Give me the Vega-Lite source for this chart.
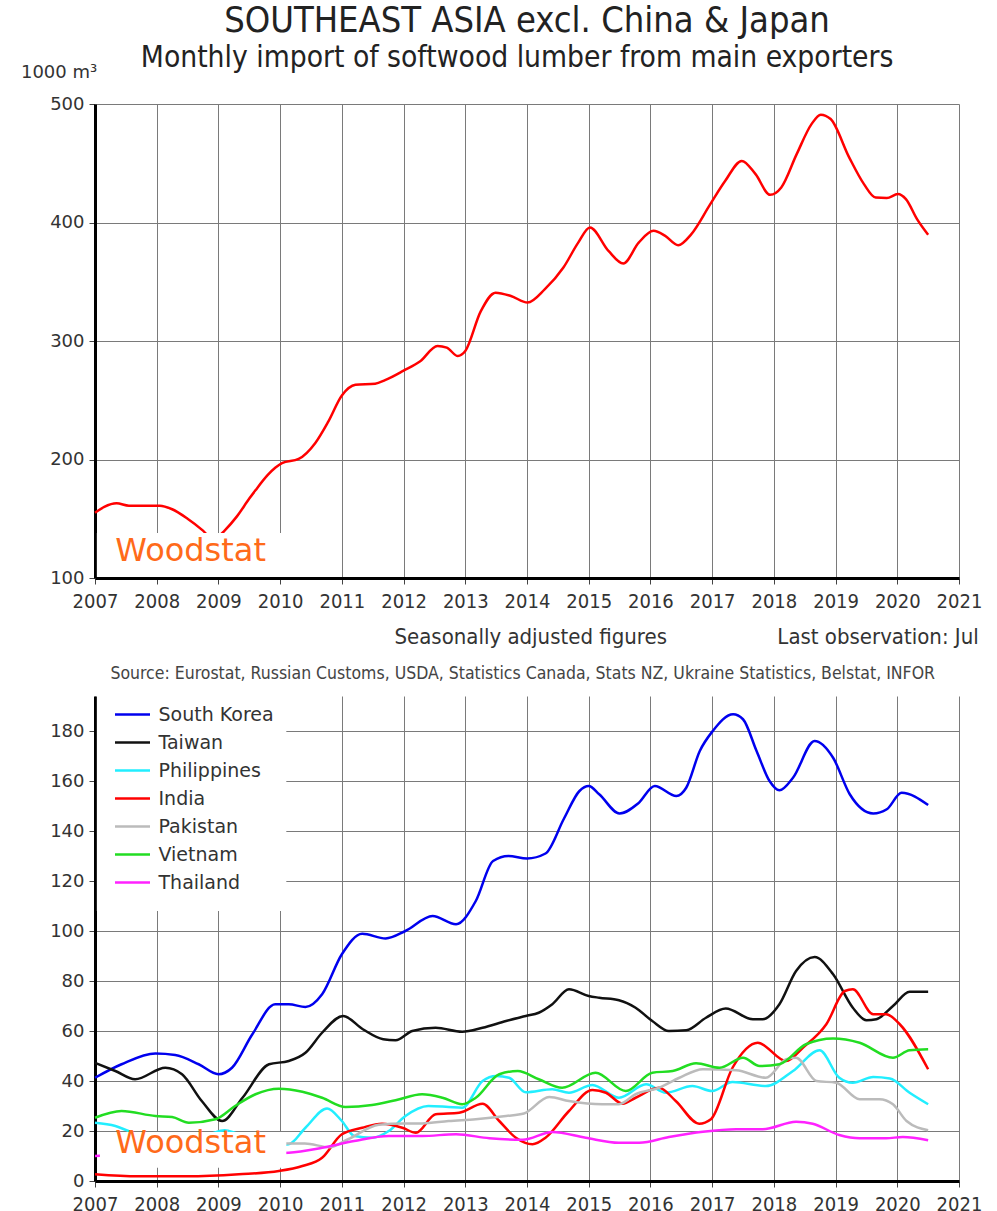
{
  "$schema": "https://vega.github.io/schema/vega-lite/v6.json",
  "background": "white",
  "padding": {"left": 20, "top": 2, "right": 5, "bottom": 0},
  "spacing": 118,
  "bounds": "flush",
  "resolve": {"legend": {"color": "independent"}},
  "config": {
    "view": {"stroke": null},
    "axis": {
      "domainColor": "#000000", "domainWidth": 3,
      "gridColor": "#7a7a7a", "gridWidth": 1, "gridOpacity": 1,
      "tickColor": "#444444", "tickSize": 6, "tickWidth": 1,
      "labelColor": "#333333", "labelFont": "DejaVu Sans", "labelFontSize": 18,
      "title": null
    },
    "axisX": {"labelFont": "'DejaVu Sans Condensed', 'Liberation Sans Narrow', sans-serif", "labelFontSize": 20, "labelPadding": 7, "labelOverlap": false, "labelFlush": false},
    "axisY": {"labelPadding": 5, "labelOverlap": false, "labelFlush": false}
  },
  "datasets": {
    "total": [
      {"t": 2007.0, "v": 155}, {"t": 2007.15, "v": 160}, {"t": 2007.35, "v": 163}, {"t": 2007.55, "v": 161},
      {"t": 2007.8, "v": 161}, {"t": 2008.05, "v": 161}, {"t": 2008.25, "v": 158}, {"t": 2008.5, "v": 150},
      {"t": 2008.75, "v": 140}, {"t": 2008.9, "v": 133}, {"t": 2009.0, "v": 135}, {"t": 2009.1, "v": 140},
      {"t": 2009.3, "v": 152}, {"t": 2009.5, "v": 167}, {"t": 2009.6, "v": 174}, {"t": 2009.8, "v": 187},
      {"t": 2009.92, "v": 193}, {"t": 2010.03, "v": 197}, {"t": 2010.3, "v": 200.5}, {"t": 2010.57, "v": 214},
      {"t": 2010.78, "v": 232}, {"t": 2011.0, "v": 254}, {"t": 2011.22, "v": 263}, {"t": 2011.54, "v": 264},
      {"t": 2011.7, "v": 267}, {"t": 2012.0, "v": 275}, {"t": 2012.27, "v": 283}, {"t": 2012.55, "v": 295.8},
      {"t": 2012.7, "v": 294.4}, {"t": 2012.88, "v": 287.3}, {"t": 2013.0, "v": 291.5}, {"t": 2013.25, "v": 325},
      {"t": 2013.49, "v": 340.8}, {"t": 2013.74, "v": 338}, {"t": 2014.01, "v": 332.4}, {"t": 2014.29, "v": 343.7},
      {"t": 2014.59, "v": 362}, {"t": 2014.83, "v": 383}, {"t": 2015.02, "v": 395.8}, {"t": 2015.32, "v": 376},
      {"t": 2015.56, "v": 365.4}, {"t": 2015.81, "v": 383}, {"t": 2016.05, "v": 393}, {"t": 2016.24, "v": 388.7},
      {"t": 2016.45, "v": 380.8}, {"t": 2016.66, "v": 390}, {"t": 2016.97, "v": 415.5}, {"t": 2017.21, "v": 435},
      {"t": 2017.48, "v": 452}, {"t": 2017.7, "v": 441}, {"t": 2017.94, "v": 423.4}, {"t": 2018.12, "v": 429.6},
      {"t": 2018.37, "v": 457.7}, {"t": 2018.61, "v": 483}, {"t": 2018.76, "v": 491}, {"t": 2018.92, "v": 487.3},
      {"t": 2019.22, "v": 455}, {"t": 2019.46, "v": 432.4}, {"t": 2019.65, "v": 421}, {"t": 2019.83, "v": 420.6},
      {"t": 2020.01, "v": 424}, {"t": 2020.14, "v": 419.7}, {"t": 2020.32, "v": 402.8}, {"t": 2020.5, "v": 389.6}
    ],
    "countries": [
      {"country": "South Korea", "t": 2007.0, "v": 41.3}, {"country": "South Korea", "t": 2007.43, "v": 46.7},
      {"country": "South Korea", "t": 2007.98, "v": 51}, {"country": "South Korea", "t": 2008.3, "v": 50.4},
      {"country": "South Korea", "t": 2008.68, "v": 46.7}, {"country": "South Korea", "t": 2009.0, "v": 42.7},
      {"country": "South Korea", "t": 2009.22, "v": 45.3}, {"country": "South Korea", "t": 2009.55, "v": 58.7},
      {"country": "South Korea", "t": 2009.92, "v": 70.7}, {"country": "South Korea", "t": 2010.14, "v": 70.7},
      {"country": "South Korea", "t": 2010.41, "v": 69.6}, {"country": "South Korea", "t": 2010.68, "v": 74.7},
      {"country": "South Korea", "t": 2011.0, "v": 90.7}, {"country": "South Korea", "t": 2011.33, "v": 98.9},
      {"country": "South Korea", "t": 2011.71, "v": 97}, {"country": "South Korea", "t": 2012.03, "v": 100},
      {"country": "South Korea", "t": 2012.47, "v": 106}, {"country": "South Korea", "t": 2012.85, "v": 102.7},
      {"country": "South Korea", "t": 2013.17, "v": 112}, {"country": "South Korea", "t": 2013.45, "v": 128},
      {"country": "South Korea", "t": 2013.7, "v": 130}, {"country": "South Korea", "t": 2014.0, "v": 129},
      {"country": "South Korea", "t": 2014.3, "v": 131}, {"country": "South Korea", "t": 2014.6, "v": 145},
      {"country": "South Korea", "t": 2014.85, "v": 156}, {"country": "South Korea", "t": 2015.0, "v": 158},
      {"country": "South Korea", "t": 2015.17, "v": 154.7}, {"country": "South Korea", "t": 2015.5, "v": 147},
      {"country": "South Korea", "t": 2015.8, "v": 151}, {"country": "South Korea", "t": 2016.07, "v": 158},
      {"country": "South Korea", "t": 2016.42, "v": 154}, {"country": "South Korea", "t": 2016.58, "v": 157.3},
      {"country": "South Korea", "t": 2016.8, "v": 172}, {"country": "South Korea", "t": 2017.01, "v": 180},
      {"country": "South Korea", "t": 2017.34, "v": 186.7}, {"country": "South Korea", "t": 2017.5, "v": 184.7},
      {"country": "South Korea", "t": 2017.72, "v": 172}, {"country": "South Korea", "t": 2017.93, "v": 160},
      {"country": "South Korea", "t": 2018.09, "v": 156.3}, {"country": "South Korea", "t": 2018.31, "v": 161.3},
      {"country": "South Korea", "t": 2018.66, "v": 176}, {"country": "South Korea", "t": 2018.96, "v": 169.3},
      {"country": "South Korea", "t": 2019.23, "v": 154.7}, {"country": "South Korea", "t": 2019.61, "v": 147},
      {"country": "South Korea", "t": 2019.83, "v": 148.7}, {"country": "South Korea", "t": 2020.07, "v": 155.3},
      {"country": "South Korea", "t": 2020.5, "v": 150.4},

      {"country": "Taiwan", "t": 2007.0, "v": 47.3}, {"country": "Taiwan", "t": 2007.33, "v": 44},
      {"country": "Taiwan", "t": 2007.65, "v": 40.7}, {"country": "Taiwan", "t": 2008.14, "v": 45.3},
      {"country": "Taiwan", "t": 2008.41, "v": 42.7}, {"country": "Taiwan", "t": 2008.73, "v": 32},
      {"country": "Taiwan", "t": 2009.06, "v": 24}, {"country": "Taiwan", "t": 2009.39, "v": 33.3},
      {"country": "Taiwan", "t": 2009.82, "v": 46.7}, {"country": "Taiwan", "t": 2010.14, "v": 48},
      {"country": "Taiwan", "t": 2010.41, "v": 51.3}, {"country": "Taiwan", "t": 2010.68, "v": 59.3},
      {"country": "Taiwan", "t": 2011.02, "v": 66}, {"country": "Taiwan", "t": 2011.34, "v": 60.7},
      {"country": "Taiwan", "t": 2011.67, "v": 56.7}, {"country": "Taiwan", "t": 2011.87, "v": 56.3},
      {"country": "Taiwan", "t": 2012.14, "v": 60}, {"country": "Taiwan", "t": 2012.52, "v": 61.3},
      {"country": "Taiwan", "t": 2012.95, "v": 59.7}, {"country": "Taiwan", "t": 2013.28, "v": 61.3},
      {"country": "Taiwan", "t": 2013.66, "v": 64}, {"country": "Taiwan", "t": 2013.98, "v": 66},
      {"country": "Taiwan", "t": 2014.19, "v": 67.3}, {"country": "Taiwan", "t": 2014.41, "v": 70.7},
      {"country": "Taiwan", "t": 2014.68, "v": 76.7}, {"country": "Taiwan", "t": 2015.0, "v": 74},
      {"country": "Taiwan", "t": 2015.17, "v": 73.3}, {"country": "Taiwan", "t": 2015.49, "v": 72.3},
      {"country": "Taiwan", "t": 2015.76, "v": 69.3}, {"country": "Taiwan", "t": 2016.03, "v": 64},
      {"country": "Taiwan", "t": 2016.3, "v": 60}, {"country": "Taiwan", "t": 2016.58, "v": 60.3},
      {"country": "Taiwan", "t": 2016.9, "v": 65.3}, {"country": "Taiwan", "t": 2017.22, "v": 69},
      {"country": "Taiwan", "t": 2017.66, "v": 64.7}, {"country": "Taiwan", "t": 2017.82, "v": 64.7},
      {"country": "Taiwan", "t": 2018.09, "v": 70.7}, {"country": "Taiwan", "t": 2018.36, "v": 84},
      {"country": "Taiwan", "t": 2018.66, "v": 89.6}, {"country": "Taiwan", "t": 2018.96, "v": 82.7},
      {"country": "Taiwan", "t": 2019.28, "v": 69.3}, {"country": "Taiwan", "t": 2019.5, "v": 64.3},
      {"country": "Taiwan", "t": 2019.66, "v": 64.7}, {"country": "Taiwan", "t": 2019.93, "v": 70},
      {"country": "Taiwan", "t": 2020.2, "v": 75.7}, {"country": "Taiwan", "t": 2020.5, "v": 75.7},

      {"country": "Philippines", "t": 2007.0, "v": 23.3}, {"country": "Philippines", "t": 2007.33, "v": 22},
      {"country": "Philippines", "t": 2007.54, "v": 20}, {"country": "Philippines", "t": 2007.8, "v": 17},
      {"country": "Philippines", "t": 2008.2, "v": 15}, {"country": "Philippines", "t": 2008.6, "v": 16},
      {"country": "Philippines", "t": 2008.9, "v": 19}, {"country": "Philippines", "t": 2009.1, "v": 20.3},
      {"country": "Philippines", "t": 2009.3, "v": 19}, {"country": "Philippines", "t": 2009.7, "v": 16},
      {"country": "Philippines", "t": 2010.0, "v": 14.5}, {"country": "Philippines", "t": 2010.14, "v": 14.7},
      {"country": "Philippines", "t": 2010.41, "v": 21.3}, {"country": "Philippines", "t": 2010.76, "v": 29},
      {"country": "Philippines", "t": 2011.0, "v": 24}, {"country": "Philippines", "t": 2011.2, "v": 18},
      {"country": "Philippines", "t": 2011.49, "v": 17.3}, {"country": "Philippines", "t": 2011.76, "v": 20},
      {"country": "Philippines", "t": 2012.03, "v": 26}, {"country": "Philippines", "t": 2012.4, "v": 30},
      {"country": "Philippines", "t": 2012.73, "v": 29.6}, {"country": "Philippines", "t": 2012.95, "v": 29.3},
      {"country": "Philippines", "t": 2013.28, "v": 40}, {"country": "Philippines", "t": 2013.5, "v": 42},
      {"country": "Philippines", "t": 2013.71, "v": 41.3}, {"country": "Philippines", "t": 2013.98, "v": 35.5},
      {"country": "Philippines", "t": 2014.41, "v": 36.7}, {"country": "Philippines", "t": 2014.68, "v": 35.3},
      {"country": "Philippines", "t": 2015.06, "v": 38.4}, {"country": "Philippines", "t": 2015.49, "v": 33.3},
      {"country": "Philippines", "t": 2015.93, "v": 38.7}, {"country": "Philippines", "t": 2016.25, "v": 35.3},
      {"country": "Philippines", "t": 2016.68, "v": 38}, {"country": "Philippines", "t": 2017.0, "v": 36},
      {"country": "Philippines", "t": 2017.33, "v": 39.6}, {"country": "Philippines", "t": 2017.87, "v": 38},
      {"country": "Philippines", "t": 2018.31, "v": 44}, {"country": "Philippines", "t": 2018.74, "v": 52.3},
      {"country": "Philippines", "t": 2019.06, "v": 41.3}, {"country": "Philippines", "t": 2019.28, "v": 39.3},
      {"country": "Philippines", "t": 2019.61, "v": 41.6}, {"country": "Philippines", "t": 2019.88, "v": 41},
      {"country": "Philippines", "t": 2020.2, "v": 35.3}, {"country": "Philippines", "t": 2020.5, "v": 30.7},

      {"country": "India", "t": 2007.0, "v": 2.7}, {"country": "India", "t": 2007.7, "v": 1.9},
      {"country": "India", "t": 2008.5, "v": 1.9}, {"country": "India", "t": 2009.33, "v": 2.7},
      {"country": "India", "t": 2009.98, "v": 4}, {"country": "India", "t": 2010.36, "v": 6},
      {"country": "India", "t": 2010.68, "v": 9.3}, {"country": "India", "t": 2011.0, "v": 18.7},
      {"country": "India", "t": 2011.33, "v": 21.3}, {"country": "India", "t": 2011.65, "v": 22.9},
      {"country": "India", "t": 2011.98, "v": 21.3}, {"country": "India", "t": 2012.2, "v": 19.3},
      {"country": "India", "t": 2012.52, "v": 26.7}, {"country": "India", "t": 2012.9, "v": 27.3},
      {"country": "India", "t": 2013.28, "v": 30.9}, {"country": "India", "t": 2013.55, "v": 24},
      {"country": "India", "t": 2013.82, "v": 17.3}, {"country": "India", "t": 2014.09, "v": 14.7},
      {"country": "India", "t": 2014.3, "v": 17.3}, {"country": "India", "t": 2014.68, "v": 28},
      {"country": "India", "t": 2015.06, "v": 36.4}, {"country": "India", "t": 2015.28, "v": 35.3},
      {"country": "India", "t": 2015.55, "v": 30.9}, {"country": "India", "t": 2015.76, "v": 33.3},
      {"country": "India", "t": 2016.14, "v": 37.3}, {"country": "India", "t": 2016.41, "v": 32},
      {"country": "India", "t": 2016.79, "v": 22.9}, {"country": "India", "t": 2016.98, "v": 24.7},
      {"country": "India", "t": 2017.33, "v": 45.3}, {"country": "India", "t": 2017.74, "v": 55.3},
      {"country": "India", "t": 2018.2, "v": 48}, {"country": "India", "t": 2018.47, "v": 53.3},
      {"country": "India", "t": 2018.85, "v": 62.7}, {"country": "India", "t": 2019.15, "v": 76},
      {"country": "India", "t": 2019.28, "v": 76.7}, {"country": "India", "t": 2019.61, "v": 66.7},
      {"country": "India", "t": 2019.82, "v": 66.7}, {"country": "India", "t": 2020.04, "v": 62.7},
      {"country": "India", "t": 2020.5, "v": 44.7},

      {"country": "Pakistan", "t": 2010.0, "v": 15}, {"country": "Pakistan", "t": 2010.4, "v": 15},
      {"country": "Pakistan", "t": 2010.8, "v": 13.5}, {"country": "Pakistan", "t": 2011.1, "v": 16.7},
      {"country": "Pakistan", "t": 2011.6, "v": 22.5}, {"country": "Pakistan", "t": 2012.0, "v": 23},
      {"country": "Pakistan", "t": 2012.3, "v": 23}, {"country": "Pakistan", "t": 2012.73, "v": 24},
      {"country": "Pakistan", "t": 2013.17, "v": 24.7}, {"country": "Pakistan", "t": 2013.66, "v": 26},
      {"country": "Pakistan", "t": 2013.95, "v": 27}, {"country": "Pakistan", "t": 2014.36, "v": 33.6},
      {"country": "Pakistan", "t": 2014.68, "v": 32}, {"country": "Pakistan", "t": 2015.22, "v": 30.7},
      {"country": "Pakistan", "t": 2015.49, "v": 30.7}, {"country": "Pakistan", "t": 2015.76, "v": 34.7},
      {"country": "Pakistan", "t": 2016.14, "v": 37.3}, {"country": "Pakistan", "t": 2016.47, "v": 41.3},
      {"country": "Pakistan", "t": 2016.85, "v": 44.7}, {"country": "Pakistan", "t": 2017.39, "v": 44.3},
      {"country": "Pakistan", "t": 2017.87, "v": 41.3}, {"country": "Pakistan", "t": 2018.2, "v": 48.7},
      {"country": "Pakistan", "t": 2018.36, "v": 49.3}, {"country": "Pakistan", "t": 2018.69, "v": 40},
      {"country": "Pakistan", "t": 2019.01, "v": 39.3}, {"country": "Pakistan", "t": 2019.39, "v": 32.7},
      {"country": "Pakistan", "t": 2019.71, "v": 32.7}, {"country": "Pakistan", "t": 2019.93, "v": 30.7},
      {"country": "Pakistan", "t": 2020.15, "v": 24}, {"country": "Pakistan", "t": 2020.5, "v": 20.3},

      {"country": "Vietnam", "t": 2007.0, "v": 25.3}, {"country": "Vietnam", "t": 2007.43, "v": 28},
      {"country": "Vietnam", "t": 2007.98, "v": 26}, {"country": "Vietnam", "t": 2008.25, "v": 25.6},
      {"country": "Vietnam", "t": 2008.52, "v": 23.3}, {"country": "Vietnam", "t": 2008.95, "v": 24.7},
      {"country": "Vietnam", "t": 2009.27, "v": 30}, {"country": "Vietnam", "t": 2009.6, "v": 34.7},
      {"country": "Vietnam", "t": 2009.98, "v": 36.9}, {"country": "Vietnam", "t": 2010.36, "v": 35.7},
      {"country": "Vietnam", "t": 2010.68, "v": 33.3}, {"country": "Vietnam", "t": 2011.06, "v": 29.6},
      {"country": "Vietnam", "t": 2011.49, "v": 30.4}, {"country": "Vietnam", "t": 2011.87, "v": 32.3},
      {"country": "Vietnam", "t": 2012.3, "v": 34.7}, {"country": "Vietnam", "t": 2012.63, "v": 33.3},
      {"country": "Vietnam", "t": 2012.95, "v": 30.7}, {"country": "Vietnam", "t": 2013.17, "v": 33.3},
      {"country": "Vietnam", "t": 2013.55, "v": 42.7}, {"country": "Vietnam", "t": 2013.85, "v": 44},
      {"country": "Vietnam", "t": 2014.19, "v": 40.7}, {"country": "Vietnam", "t": 2014.57, "v": 37.3},
      {"country": "Vietnam", "t": 2015.11, "v": 43.3}, {"country": "Vietnam", "t": 2015.6, "v": 36},
      {"country": "Vietnam", "t": 2016.03, "v": 43.3}, {"country": "Vietnam", "t": 2016.36, "v": 44},
      {"country": "Vietnam", "t": 2016.74, "v": 47.1}, {"country": "Vietnam", "t": 2017.12, "v": 45.3},
      {"country": "Vietnam", "t": 2017.5, "v": 49.3}, {"country": "Vietnam", "t": 2017.77, "v": 46},
      {"country": "Vietnam", "t": 2018.09, "v": 46.7}, {"country": "Vietnam", "t": 2018.52, "v": 54.7},
      {"country": "Vietnam", "t": 2018.96, "v": 57}, {"country": "Vietnam", "t": 2019.39, "v": 55.3},
      {"country": "Vietnam", "t": 2019.93, "v": 49.3}, {"country": "Vietnam", "t": 2020.2, "v": 52.3},
      {"country": "Vietnam", "t": 2020.5, "v": 52.7},

      {"country": "Thailand", "t": 2007.0, "v": 10}, {"country": "Thailand", "t": 2007.5, "v": 10.5},
      {"country": "Thailand", "t": 2008.5, "v": 10.5}, {"country": "Thailand", "t": 2009.5, "v": 10.8},
      {"country": "Thailand", "t": 2010.14, "v": 11.3}, {"country": "Thailand", "t": 2010.68, "v": 13.3},
      {"country": "Thailand", "t": 2011.2, "v": 16}, {"country": "Thailand", "t": 2011.76, "v": 18},
      {"country": "Thailand", "t": 2012.3, "v": 18}, {"country": "Thailand", "t": 2012.85, "v": 18.7},
      {"country": "Thailand", "t": 2013.39, "v": 17.1}, {"country": "Thailand", "t": 2013.93, "v": 16.5},
      {"country": "Thailand", "t": 2014.41, "v": 19.6}, {"country": "Thailand", "t": 2014.95, "v": 17.3},
      {"country": "Thailand", "t": 2015.49, "v": 15.3}, {"country": "Thailand", "t": 2015.82, "v": 15.3},
      {"country": "Thailand", "t": 2016.3, "v": 17.6}, {"country": "Thailand", "t": 2016.85, "v": 19.7},
      {"country": "Thailand", "t": 2017.39, "v": 20.7}, {"country": "Thailand", "t": 2017.82, "v": 20.7},
      {"country": "Thailand", "t": 2018.36, "v": 23.7}, {"country": "Thailand", "t": 2018.63, "v": 22.9},
      {"country": "Thailand", "t": 2019.06, "v": 18.4}, {"country": "Thailand", "t": 2019.39, "v": 17.1},
      {"country": "Thailand", "t": 2019.82, "v": 17.1}, {"country": "Thailand", "t": 2020.09, "v": 17.6},
      {"country": "Thailand", "t": 2020.5, "v": 16.3}
    ]
  },
  "vconcat": [
    {
      "width": 864,
      "height": 474,
      "layer": [
        {
          "data": {"name": "total"},
          "mark": {"type": "line", "color": "#FF0000", "strokeWidth": 2.5, "interpolate": "monotone"},
          "encoding": {
            "x": {"field": "t", "type": "quantitative", "scale": {"domain": [2007, 2021], "nice": false, "zero": false},
                  "axis": {"values": [2007, 2008, 2009, 2010, 2011, 2012, 2013, 2014, 2015, 2016, 2017, 2018, 2019, 2020, 2021], "format": "d"}},
            "y": {"field": "v", "type": "quantitative", "scale": {"domain": [100, 500], "nice": false, "zero": false},
                  "axis": {"values": [100, 200, 300, 400, 500]}}
          }
        },
        {
          "data": {"values": [{}]},
          "mark": {"type": "rect", "fill": "white"},
          "encoding": {
            "x": {"datum": 2007.03, "type": "quantitative"}, "x2": {"datum": 2010.05},
            "y": {"datum": 100.8, "type": "quantitative"}, "y2": {"datum": 138}
          }
        },
        {
          "data": {"values": [{}]},
          "mark": {"type": "text", "color": "#FF6A1A", "font": "DejaVu Sans", "fontSize": 32, "align": "center", "baseline": "middle"},
          "encoding": {"x": {"datum": 2008.55, "type": "quantitative"}, "y": {"datum": 122.7, "type": "quantitative"}, "text": {"value": "Woodstat"}}
        },
        {
          "data": {"values": [{}]},
          "mark": {"type": "text", "color": "#222222", "font": "'DejaVu Sans Condensed', 'Liberation Sans Narrow', sans-serif", "fontSize": 36, "align": "center", "baseline": "middle"},
          "encoding": {"x": {"datum": 2014.0, "type": "quantitative"}, "y": {"datum": 570.4, "type": "quantitative"}, "text": {"value": "SOUTHEAST ASIA excl. China & Japan"}}
        },
        {
          "data": {"values": [{}]},
          "mark": {"type": "text", "color": "#222222", "font": "'DejaVu Sans Condensed', 'Liberation Sans Narrow', sans-serif", "fontSize": 29.7, "align": "center", "baseline": "middle"},
          "encoding": {"x": {"datum": 2013.84, "type": "quantitative"}, "y": {"datum": 539.1, "type": "quantitative"}, "text": {"value": "Monthly import of softwood lumber from main exporters"}}
        },
        {
          "data": {"values": [{}]},
          "mark": {"type": "text", "color": "#333333", "font": "DejaVu Sans", "fontSize": 18, "align": "left", "baseline": "middle"},
          "encoding": {"x": {"datum": 2005.8, "type": "quantitative"}, "y": {"datum": 526.4, "type": "quantitative"}, "text": {"value": "1000 m³"}}
        },
        {
          "data": {"values": [{}]},
          "mark": {"type": "text", "color": "#333333", "font": "'DejaVu Sans Condensed', 'Liberation Sans Narrow', sans-serif", "fontSize": 22, "align": "center", "baseline": "middle"},
          "encoding": {"x": {"datum": 2014.06, "type": "quantitative"}, "y": {"datum": 50.1, "type": "quantitative"}, "text": {"value": "Seasonally adjusted figures"}}
        },
        {
          "data": {"values": [{}]},
          "mark": {"type": "text", "color": "#333333", "font": "'DejaVu Sans Condensed', 'Liberation Sans Narrow', sans-serif", "fontSize": 22, "align": "right", "baseline": "middle"},
          "encoding": {"x": {"datum": 2021.32, "type": "quantitative"}, "y": {"datum": 50.1, "type": "quantitative"}, "text": {"value": "Last observation: Jul"}}
        }
      ]
    },
    {
      "width": 864,
      "height": 485,
      "layer": [
        {
          "data": {"name": "countries"},
          "mark": {"type": "line", "strokeWidth": 2.5, "interpolate": "monotone"},
          "encoding": {
            "x": {"field": "t", "type": "quantitative", "scale": {"domain": [2007, 2021], "nice": false, "zero": false},
                  "axis": {"values": [2007, 2008, 2009, 2010, 2011, 2012, 2013, 2014, 2015, 2016, 2017, 2018, 2019, 2020, 2021], "format": "d"}},
            "y": {"field": "v", "type": "quantitative", "scale": {"domain": [0, 194], "nice": false},
                  "axis": {"values": [0, 20, 40, 60, 80, 100, 120, 140, 160, 180]}},
            "color": {"field": "country", "type": "nominal",
                      "scale": {"domain": ["South Korea", "Taiwan", "Philippines", "India", "Pakistan", "Vietnam", "Thailand"],
                                "range": ["#0000EE", "#111111", "#22EEFF", "#FF0000", "#BBBBBB", "#22DD22", "#FF22FF"]},
                      "legend": {"orient": "none", "legendX": 22, "legendY": 3, "title": null, "padding": 0,
                                 "symbolType": "M-1.25,0H1.25", "symbolSize": 784, "symbolStrokeWidth": 2.5,
                                 "labelFont": "DejaVu Sans", "labelFontSize": 19, "labelColor": "#333333",
                                 "labelOffset": 10.5, "rowPadding": 2}}
          }
        },
        {
          "data": {"values": [{}]},
          "mark": {"type": "rect", "fill": "white"},
          "encoding": {
            "x": {"datum": 2007.03, "type": "quantitative"}, "x2": {"datum": 2010.1},
            "y": {"datum": 108, "type": "quantitative"}, "y2": {"datum": 194}
          }
        },
        {
          "data": {"values": [{}]},
          "mark": {"type": "rect", "fill": "white"},
          "encoding": {
            "x": {"datum": 2007.08, "type": "quantitative"}, "x2": {"datum": 2010.1},
            "y": {"datum": 5.3, "type": "quantitative"}, "y2": {"datum": 19.6}
          }
        },
        {
          "data": {"values": [{}]},
          "mark": {"type": "text", "color": "#FF6A1A", "font": "DejaVu Sans", "fontSize": 32, "align": "center", "baseline": "middle"},
          "encoding": {"x": {"datum": 2008.55, "type": "quantitative"}, "y": {"datum": 15.2, "type": "quantitative"}, "text": {"value": "Woodstat"}}
        },
        {
          "data": {"values": [{}]},
          "mark": {"type": "text", "color": "#444444", "font": "'DejaVu Sans Condensed', 'Liberation Sans Narrow', sans-serif", "fontSize": 17.5, "align": "center", "baseline": "middle"},
          "encoding": {"x": {"datum": 2013.93, "type": "quantitative"}, "y": {"datum": 202.8, "type": "quantitative"}, "text": {"value": "Source: Eurostat, Russian Customs, USDA, Statistics Canada, Stats NZ, Ukraine Statistics, Belstat, INFOR"}}
        }
      ]
    }
  ]
}
